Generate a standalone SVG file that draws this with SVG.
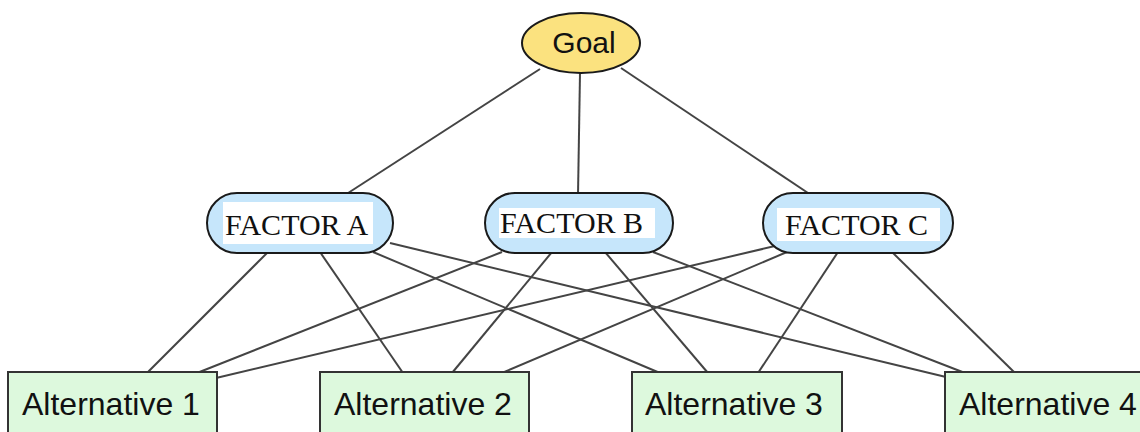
<svg xmlns="http://www.w3.org/2000/svg" width="1140" height="432" viewBox="0 0 1140 432">
  <style>
    .edge { stroke: #444; stroke-width: 2; fill: none; }
    .goal { fill: #FBE27F; stroke: #1a1a1a; stroke-width: 2; }
    .factor { fill: #C6E6FB; stroke: #1a1a1a; stroke-width: 2; }
    .pad { fill: #ffffff; }
    .alt { fill: #DDF9DD; stroke: #333; stroke-width: 2; }
    .sans { font-family: "Liberation Sans", Arial, sans-serif; fill: #111; }
    .serif { font-family: "Liberation Serif", "Times New Roman", serif; fill: #111; font-size: 30px; }
  </style>
  <rect width="1140" height="432" fill="#ffffff"/>

  <!-- connectors -->
  <g id="connectors">
    <!-- goal to factors -->
    <line class="edge" x1="540" y1="69" x2="345" y2="195"/>
    <line class="edge" x1="580" y1="73" x2="578" y2="195"/>
    <line class="edge" x1="621" y1="68" x2="811" y2="195"/>
    <!-- factor A to alternatives -->
    <line class="edge" x1="268" y1="252" x2="147" y2="373"/>
    <line class="edge" x1="320" y1="252" x2="403" y2="373"/>
    <line class="edge" x1="373" y1="252" x2="660" y2="373"/>
    <line class="edge" x1="390" y1="243" x2="946" y2="377"/>
    <!-- factor B to alternatives -->
    <line class="edge" x1="502" y1="252" x2="197" y2="373"/>
    <line class="edge" x1="552" y1="252" x2="452" y2="373"/>
    <line class="edge" x1="605" y1="252" x2="708" y2="373"/>
    <line class="edge" x1="653" y1="252" x2="965" y2="373"/>
    <!-- factor C to alternatives -->
    <line class="edge" x1="775" y1="246" x2="216" y2="378"/>
    <line class="edge" x1="787" y1="252" x2="502" y2="373"/>
    <line class="edge" x1="838" y1="252" x2="758" y2="373"/>
    <line class="edge" x1="892" y1="252" x2="1015" y2="373"/>
  </g>

  <g id="goal">
    <ellipse class="goal" cx="581" cy="43" rx="59" ry="30"/>
    <text class="sans" x="584" y="53" font-size="30" text-anchor="middle">Goal</text>
  </g>

  <g id="factor-a">
    <rect class="factor" x="207" y="193" width="186" height="60" rx="30"/>
    <rect class="pad" x="223" y="202" width="150" height="42"/>
    <text class="serif" x="225" y="235">FACTOR A</text>
  </g>

  <g id="factor-b">
    <rect class="factor" x="485" y="193" width="188" height="60" rx="30"/>
    <rect class="pad" x="499" y="208" width="156" height="30"/>
    <text class="serif" x="500" y="233">FACTOR B</text>
  </g>

  <g id="factor-c">
    <rect class="factor" x="763" y="193" width="190" height="60" rx="30"/>
    <rect class="pad" x="777" y="208" width="163" height="33"/>
    <text class="serif" x="785" y="235">FACTOR C</text>
  </g>

  <g id="alt-1">
    <rect class="alt" x="8" y="372" width="209" height="70"/>
    <text class="sans" x="22" y="415" font-size="32">Alternative 1</text>
  </g>

  <g id="alt-2">
    <rect class="alt" x="320" y="372" width="209" height="70"/>
    <text class="sans" x="334" y="415" font-size="32">Alternative 2</text>
  </g>

  <g id="alt-3">
    <rect class="alt" x="632" y="372" width="210" height="70"/>
    <text class="sans" x="645" y="415" font-size="32">Alternative 3</text>
  </g>

  <g id="alt-4">
    <rect class="alt" x="945" y="372" width="210" height="70"/>
    <text class="sans" x="959" y="415" font-size="32">Alternative 4</text>
  </g>
</svg>
